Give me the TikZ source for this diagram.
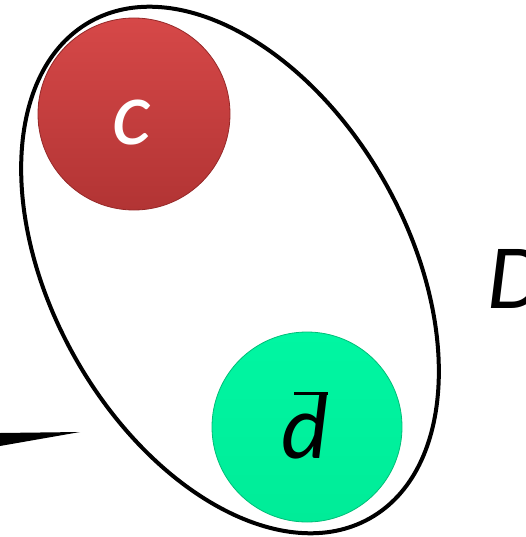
\documentclass[tikz,border=0pt]{standalone}
\usepackage{fontspec}
\setmainfont{Carlito}
\definecolor{redtop}{RGB}{214,72,72}
\definecolor{redbot}{RGB}{178,52,52}
\definecolor{rededge}{RGB}{150,40,40}
\definecolor{grntop}{RGB}{0,246,162}
\definecolor{grnbot}{RGB}{0,236,152}
\definecolor{grnedge}{RGB}{0,190,120}
\begin{document}
\begin{tikzpicture}[x=1pt,y=-1pt,
  ball/.style={circle, inner sep=0pt, minimum size=#1},
  redball/.style={ball=192pt, top color=redtop, bottom color=redbot, draw=rededge, line width=0.8pt},
  grnball/.style={ball=190pt, top color=grntop, bottom color=grnbot, draw=grnedge, line width=0.8pt},
  big/.style={font=\fontsize{92}{92}\selectfont\itshape},
  outline/.style={line width=4pt}]
\useasboundingbox (0,0) rectangle (525,537);
% enclosing ellipse
\draw[outline, rotate around={-60.6:(230,270)}] (230,270) ellipse [x radius=285, y radius=178];
% balls
\node[redball] (c) at (134,114) {};
\node[grnball] (dbar) at (307,427) {};
\node[big, text=white, anchor=base] (clab) at (132,145) {c};
\node[big, text=black, anchor=base] (dlab) at (305,458) {d};
\coordinate (barL) at (294,393.5);
\coordinate (barR) at (328,393.5);
\draw[line width=3.5pt] (barL) -- (barR);
% label D
\node[big, anchor=base west, inner sep=0pt] (D) at (487,308) {D};
% wedge
\coordinate (wtip) at (80,432);
\fill (0,433) -- (wtip) -- (0,446) -- cycle;
\end{tikzpicture}
\end{document}
